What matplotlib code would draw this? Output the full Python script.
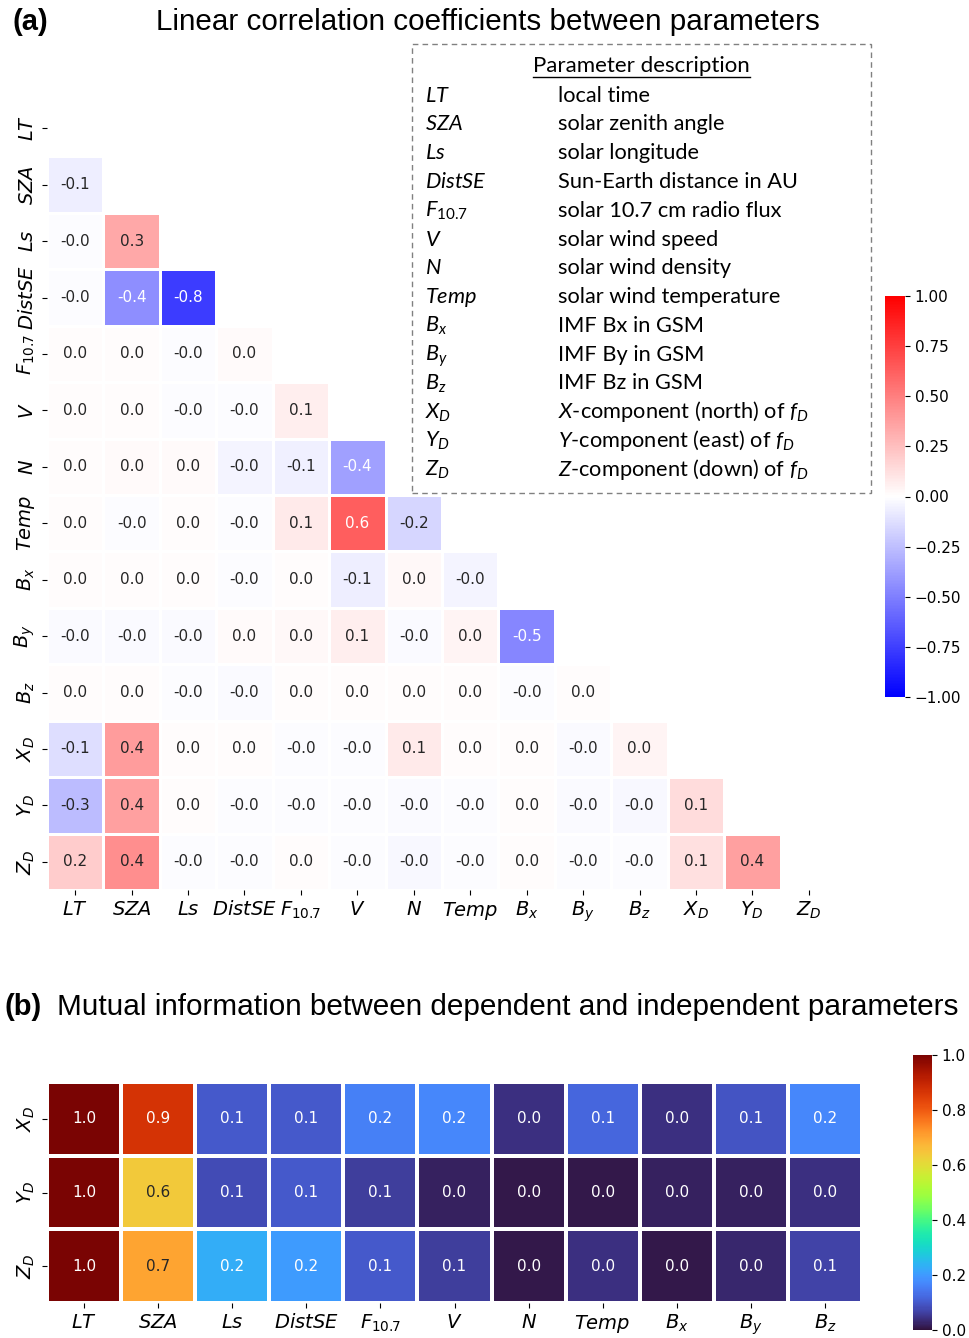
import numpy as np
import matplotlib
matplotlib.use('Agg')
import matplotlib.pyplot as plt
import seaborn as sns
from matplotlib.patches import Rectangle
from matplotlib.lines import Line2D

# italic symbols inside the description box use the "custom" math fonts
plt.rcParams['mathtext.fontset'] = 'dejavusans'
plt.rcParams['mathtext.it'] = 'Lato:italic'
plt.rcParams['mathtext.rm'] = 'Lato'

params = [r'$LT$', r'$SZA$', r'$Ls$', r'$DistSE$', r'$F_{10.7}$', r'$V$', r'$N$',
          r'$Temp$', r'$B_x$', r'$B_y$', r'$B_z$', r'$X_D$', r'$Y_D$', r'$Z_D$']

# lower triangle of the correlation matrix (row i holds columns 0..i-1)
corr_rows = [
    [],
    [-0.07],
    [-0.01, 0.34],
    [-0.01, -0.44, -0.76],
    [0.01, 0.01, -0.01, 0.02],
    [0.01, 0.01, -0.01, -0.01, 0.07],
    [0.01, 0.02, 0.02, -0.04, -0.06, -0.37],
    [0.01, -0.01, 0.01, -0.01, 0.08, 0.63, -0.16],
    [0.01, 0.01, 0.01, -0.01, 0.01, -0.07, 0.03, -0.04],
    [-0.02, -0.02, -0.02, 0.02, 0.03, 0.07, -0.02, 0.04, -0.47],
    [0.01, 0.01, -0.01, -0.02, 0.01, 0.01, 0.01, 0.01, -0.01, 0.01],
    [-0.13, 0.39, 0.01, 0.01, -0.01, -0.01, 0.08, 0.01, 0.01, -0.02, 0.04],
    [-0.26, 0.37, 0.01, -0.01, -0.01, -0.01, -0.02, -0.01, 0.01, -0.02, -0.03, 0.14],
    [0.20, 0.44, -0.01, -0.01, 0.01, -0.01, -0.03, -0.01, 0.01, -0.01, -0.01, 0.12, 0.37],
]

desc_symbols = [r'$LT$', r'$SZA$', r'$Ls$', r'$DistSE$', r'$F_{\mathit{10.7}}$', r'$V$',
                r'$N$', r'$Temp$', r'$B_x$', r'$B_y$', r'$B_z$', r'$X_D$', r'$Y_D$', r'$Z_D$']
desc_texts = ['local time', 'solar zenith angle', 'solar longitude',
              'Sun-Earth distance in AU', 'solar 10.7 cm radio flux',
              'solar wind speed', 'solar wind density', 'solar wind temperature',
              'IMF Bx in GSM', 'IMF By in GSM', 'IMF Bz in GSM',
              r'$X$-component (north) of $f_D$', r'$Y$-component (east) of $f_D$',
              r'$Z$-component (down) of $f_D$']

# mutual information of each target with the 11 drivers
mi_targets = [r'$X_D$', r'$Y_D$', r'$Z_D$']
mi_features = params[:11]
mi_xd = [1.0, 0.87, 0.10, 0.10, 0.16, 0.17, 0.04, 0.12, 0.04, 0.09, 0.17]
mi_yd = [1.0, 0.64, 0.08, 0.10, 0.06, 0.02, 0.01, 0.01, 0.02, 0.02, 0.04]
mi_zd = [1.0, 0.70, 0.23, 0.20, 0.10, 0.06, 0.01, 0.04, 0.01, 0.03, 0.07]

n = len(params)
corr = np.zeros((n, n))
for i, row in enumerate(corr_rows):
    corr[i, :len(row)] = row
mask = np.triu(np.ones((n, n), dtype=bool))
mi = np.array([mi_xd, mi_yd, mi_zd])

W, H = 969, 1338
fig = plt.figure(figsize=(W / 100, H / 100), dpi=100)


def box(x0, y0, x1, y1):
    # pixel box (top-left origin) -> figure fraction rect
    return [x0 / W, 1 - y1 / H, (x1 - x0) / W, (y1 - y0) / H]


# ---- (a) correlation matrix
ax1 = fig.add_axes(box(47, 100, 837, 890))
cax1 = fig.add_axes(box(885, 296, 905, 697))
sns.heatmap(corr, mask=mask, cmap='bwr', vmin=-1, vmax=1, annot=True, fmt='.1f',
            annot_kws={'size': 11}, linewidths=1, linecolor='white',
            ax=ax1, cbar_ax=cax1)
ax1.set_xticklabels(params, rotation=0, fontsize=14)
ax1.set_yticklabels(params, rotation=90, va='center', fontsize=14)
cb_ticks = [-1, -0.75, -0.5, -0.25, 0, 0.25, 0.5, 0.75, 1]
cax1.set_yticks(cb_ticks)
cax1.set_yticklabels(['%.2f' % v if v >= 0 else '\u2212%.2f' % -v for v in cb_ticks])
cax1.tick_params(labelsize=11)

fig.text(12 / W, 1 - 22 / H, '(a)', fontsize=21, fontweight='bold',
         family='Liberation Sans', va='center', ha='left')
fig.text(488 / W, 1 - 22 / H, 'Linear correlation coefficients between parameters',
         fontsize=21.3, family='Liberation Sans', va='center', ha='center')

# parameter description box
fig.patches.append(Rectangle((412 / W, 1 - 493 / H), (871 - 412) / W, (493 - 44) / H,
                             transform=fig.transFigure, fill=False,
                             edgecolor='#808080', lw=1, ls=(0, (4, 3))))
fig.text(641 / W, 1 - 66 / H, 'Parameter description', fontsize=16, family='Lato',
         ha='center', va='center')
fig.lines.append(Line2D([533 / W, 750 / W], [1 - 77 / H, 1 - 77 / H],
                        transform=fig.transFigure, color='black', lw=1))
for k, (sym, txt) in enumerate(zip(desc_symbols, desc_texts)):
    yb = 1 - (101.5 + k * 28.8) / H
    fig.text(425 / W, yb, sym, fontsize=15.7, family='Lato', math_fontfamily='custom',
             va='baseline', ha='left')
    fig.text(558 / W, yb, txt, fontsize=15.7, family='Lato', math_fontfamily='custom',
             va='baseline', ha='left')

# ---- (b) mutual information
ax2 = fig.add_axes(box(47, 1082, 862, 1303))
cax2 = fig.add_axes(box(913, 1055, 932, 1330))
sns.heatmap(mi, cmap='turbo', vmin=0, vmax=1, annot=True, fmt='.1f',
            annot_kws={'size': 11}, linewidths=1.5, linecolor='white',
            ax=ax2, cbar_ax=cax2)
ax2.set_xticklabels(mi_features, rotation=0, fontsize=14)
ax2.set_yticklabels(mi_targets, rotation=90, va='center', fontsize=14)
cax2.set_yticks([0, 0.2, 0.4, 0.6, 0.8, 1.0])
cax2.tick_params(labelsize=11)

fig.text(5 / W, 1 - 1007 / H, '(b)', fontsize=21, fontweight='bold',
         family='Liberation Sans', va='center', ha='left')
fig.text(57 / W, 1 - 1007 / H,
         'Mutual information between dependent and independent parameters',
         fontsize=21.4, family='Liberation Sans', va='center', ha='left')

fig.savefig('out.png', dpi=100)
